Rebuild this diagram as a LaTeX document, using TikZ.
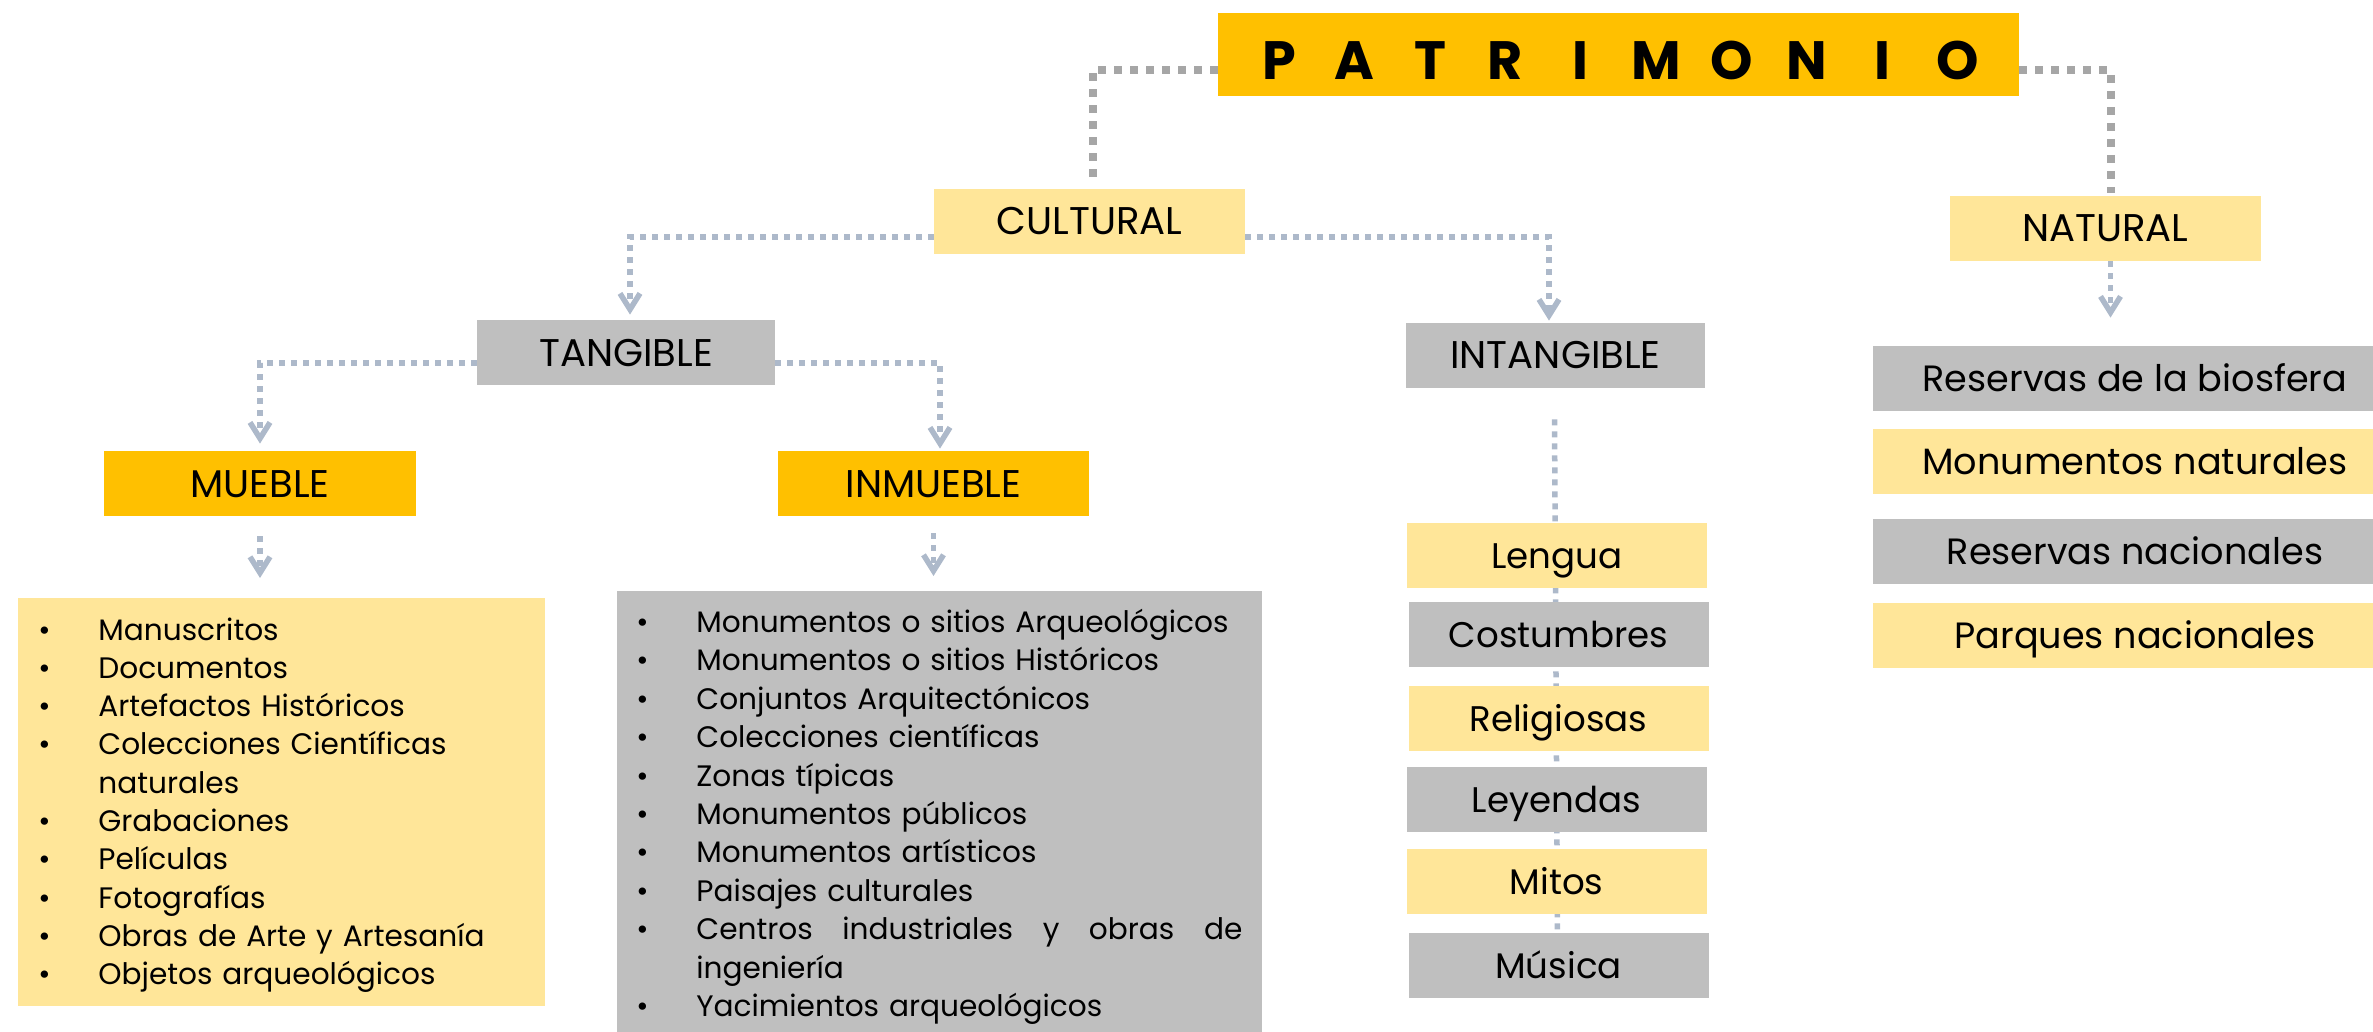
\documentclass[tikz,border=0pt]{standalone}
\usepackage{fontspec}
\setmainfont{Poppins}
\usetikzlibrary{arrows.meta,calc,backgrounds}
\definecolor{gold}{HTML}{FFC000}
\definecolor{lightgold}{HTML}{FFE699}
\definecolor{boxgray}{HTML}{BFBFBF}
\definecolor{toplinecol}{HTML}{A6A6A6}
\definecolor{bluelinecol}{HTML}{ADB9CA}
\newcommand\litem[1]{\hangindent=30pt\hangafter=1\noindent\makebox[30pt][l]{\textbullet}#1\par}
\newcommand\pletter[1]{\makebox[37.7pt]{#1}}
\newcommand\spreadline[2]{\makebox[#1][s]{\spaceskip=0.25em plus 1fil\relax #2}}
\begin{document}
\begin{tikzpicture}[x=0.5pt,y=-0.5pt,
  box/.style={inner sep=0pt, minimum height=32.5pt, text=black},
  hdr/.style={box, font=\fontsize{19.3pt}{23pt}\selectfont, text height=13.5pt, text depth=0pt},
  itm/.style={box, font=\fontsize{17.8pt}{21pt}\selectfont, text height=12.5pt, text depth=0pt, minimum width=150pt},
  nitm/.style={box, font=\fontsize{18.3pt}{22pt}\selectfont, text height=13pt, text depth=0pt, minimum width=262pt},
  listbox/.style={inner sep=0pt, anchor=north west},
  listtext/.style={inner sep=0pt, anchor=base west, text=black},
  topconn/.style={draw=toplinecol, line width=4pt, dash pattern=on 4pt off 4pt},
  conn/.style={draw=bluelinecol, line width=2.75pt, dash pattern=on 3pt off 3pt},
  arr/.style={conn, -{Straight Barb[length=8pt,width=10pt]}}
]
\useasboundingbox (0,0) rectangle (2373,1032);

% top level
\node[box, fill=gold, minimum width=400.5pt, minimum height=41.5pt,
      font=\fontsize{27pt}{30pt}\selectfont\bfseries, text height=25.5pt, text depth=0pt]
      (patr) at (1618.5,54.5) {\pletter{P}\pletter{A}\pletter{T}\pletter{R}\pletter{I}\pletter{M}\pletter{O}\pletter{N}\pletter{I}\pletter{O}};

\node[hdr, fill=lightgold, minimum width=155.5pt] (cult) at (1089.5,221.5) {CULTURAL};
\node[hdr, fill=lightgold, minimum width=155.5pt] (nat) at (2105.5,228.5) {NATURAL};

\node[hdr, fill=boxgray, minimum width=149pt] (tang) at (626,352.5) {TANGIBLE};
\node[hdr, fill=boxgray, minimum width=149.5pt] (intang) at (1555.5,355.5) {INTANGIBLE};

\node[hdr, fill=gold, minimum width=156pt] (mueble) at (260,483.5) {MUEBLE};
\node[hdr, fill=gold, minimum width=155.5pt] (inmueble) at (933.5,483.5) {INMUEBLE};

% lists
\node[listbox, fill=lightgold, minimum width=263.5pt, minimum height=204pt] (mlist) at (18,598) {};
\node[listtext, text width=253.5pt, align=left, font=\fontsize{14.8pt}{19.15pt}\selectfont] (mtxt) at (38,640)
 {\litem{Manuscritos}\litem{Documentos}\litem{Artefactos Históricos}\litem{Colecciones Científicas\newline naturales}\litem{Grabaciones}\litem{Películas}\litem{Fotografías}\litem{Obras de Arte y Artesanía}\litem{Objetos arqueológicos}};

\node[listbox, fill=boxgray, minimum width=322.5pt, minimum height=224.5pt] (ilist) at (617,591) {};
\node[listtext, text width=313pt, align=left, font=\fontsize{14.8pt}{19.2pt}\selectfont] (itxt) at (636,632.5)
 {\litem{Monumentos o sitios Arqueológicos}\litem{Monumentos o sitios Históricos}\litem{Conjuntos Arquitectónicos}\litem{Colecciones científicas}\litem{Zonas típicas}\litem{Monumentos públicos}\litem{Monumentos artísticos}\litem{Paisajes culturales}\litem{\spreadline{273pt}{Centros industriales y obras de}\newline ingeniería}\litem{Yacimientos arqueológicos}};

% intangible items
\node[itm, fill=lightgold] (lengua) at (1557,555.5) {Lengua};
\node[itm, fill=boxgray] (costumbres) at (1558.5,634.5) {Costumbres};
\node[itm, fill=lightgold] (religiosas) at (1558.5,718.5) {Religiosas};
\node[itm, fill=boxgray] (leyendas) at (1556.5,799.5) {Leyendas};
\node[itm, fill=lightgold] (mitos) at (1556.5,881.5) {Mitos};
\node[itm, fill=boxgray] (musica) at (1558.5,965.5) {Música};

% natural items
\node[nitm, fill=boxgray] (rb) at (2135,378.5) {Reservas de la biosfera};
\node[nitm, fill=lightgold] (mn) at (2135,461.5) {Monumentos naturales};
\node[nitm, fill=boxgray] (rn) at (2135,551.5) {Reservas nacionales};
\node[nitm, fill=lightgold] (pn) at (2135,635.5) {Parques nacionales};

% connectors
\draw[topconn, shorten >=5pt] ($(patr.west)+(0,15.5)$) -| ([xshift=1.75pt]cult.north);
\draw[topconn, shorten >=1.5pt] ($(patr.east)+(0,15.5)$) -| ([xshift=2.5pt]nat.north);

\draw[arr, shorten >=2.5pt] ($(cult.west)+(0,15.5)$) -| ([xshift=2pt]tang.north);
\draw[arr, shorten >=1pt] ($(cult.east)+(0,15.5)$) -| ([xshift=-3.25pt]intang.north);

\draw[arr, shorten >=3.5pt] ($(tang.west)+(0,10.5)$) -| (mueble.north);
\draw[arr, shorten >=1pt] ($(tang.east)+(0,10.5)$) -| ([xshift=3.25pt]inmueble.north);

\draw[arr, shorten >=10pt] ($(mueble.south)+(0,20)$) -- (mueble.south |- mlist.north);
\draw[arr, shorten >=7.5pt] ($(inmueble.south)+(0,17)$) -- (inmueble.south |- ilist.north);

\draw[arr, shorten >=14pt] ([xshift=2.5pt]nat.south) -- ([xshift=2.5pt]nat.south |- rb.north);

\begin{scope}[on background layer]
\draw[conn] ($(intang.south)+(-1,31)$) -- ([xshift=-0.5pt]musica.north);
\end{scope}
\end{tikzpicture}
\end{document}
